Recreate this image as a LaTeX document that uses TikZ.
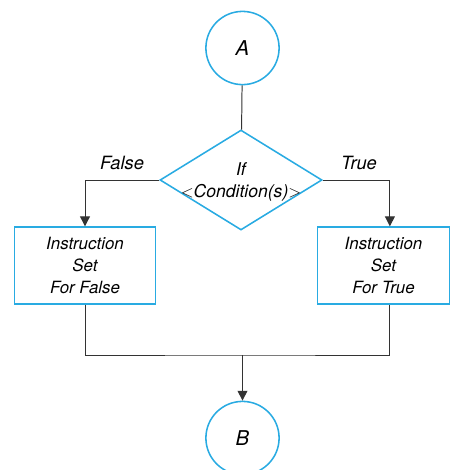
\documentclass[tikz,border=0pt]{standalone}
\usepackage{xcolor}
\usepackage{fontspec}
\setmainfont{TeX Gyre Heros}
\usepackage{tikz}
\usetikzlibrary{shapes, arrows.meta, positioning}

\definecolor{flowblue}{HTML}{29ABE2}
\definecolor{linegray}{HTML}{333333}

\begin{document}
\begin{tikzpicture}[x=0.025cm, y=-0.025cm,
    connector/.style={draw=linegray, line width=0.7pt},
    arrow/.style={connector, -{Triangle[length=7pt, width=7pt]}},
    terminal/.style={draw=flowblue, line width=1.1pt, circle, minimum size=1.83cm, inner sep=0pt,
        font=\fontsize{14.5}{17}\selectfont\itshape},
    decision/.style={draw=flowblue, line width=1.1pt, diamond, minimum width=4.05cm, minimum height=2.5cm, inner sep=0pt},
    process/.style={draw=flowblue, line width=1.1pt, rectangle, minimum height=1.92cm, align=center,
        font=\fontsize{12}{15.6}\selectfont\itshape},
    branch/.style={font=\fontsize{13}{15}\selectfont\itshape}]
    \useasboundingbox (0,0) rectangle (451,470);

    \node[terminal] (A) at (242.5,48) {A};
    \node[decision] (cond) at (241,180) {};
    \node[align=center, font=\fontsize{12.5}{16}\selectfont\itshape] (condtext) at (241,182) {If\\$<$Condition(s)$>$};
    \node[process, minimum width=3.53cm] (falsebox) at (85,265.5) {Instruction\\Set\\For False};
    \node[process, minimum width=3.3cm] (truebox) at (383.5,265.5) {Instruction\\Set\\For True};
    \node[terminal] (B) at (242.5,438) {B};

    \node[branch] (falselabel) at (122,163) {False};
    \node[branch] (truelabel) at (359,163) {True};

    \coordinate (join) at (242.5,355);

    \draw[connector] (A) -- (cond);
    \draw[arrow] (cond.west) -| (falsebox.north);
    \draw[arrow] (cond.east) -| ([xshift=0.16cm]truebox.north);
    \draw[connector] (falsebox.south) |- (join) -| ([xshift=0.16cm]truebox.south);
    \draw[arrow] (join) -- (B);
\end{tikzpicture}
\end{document}
